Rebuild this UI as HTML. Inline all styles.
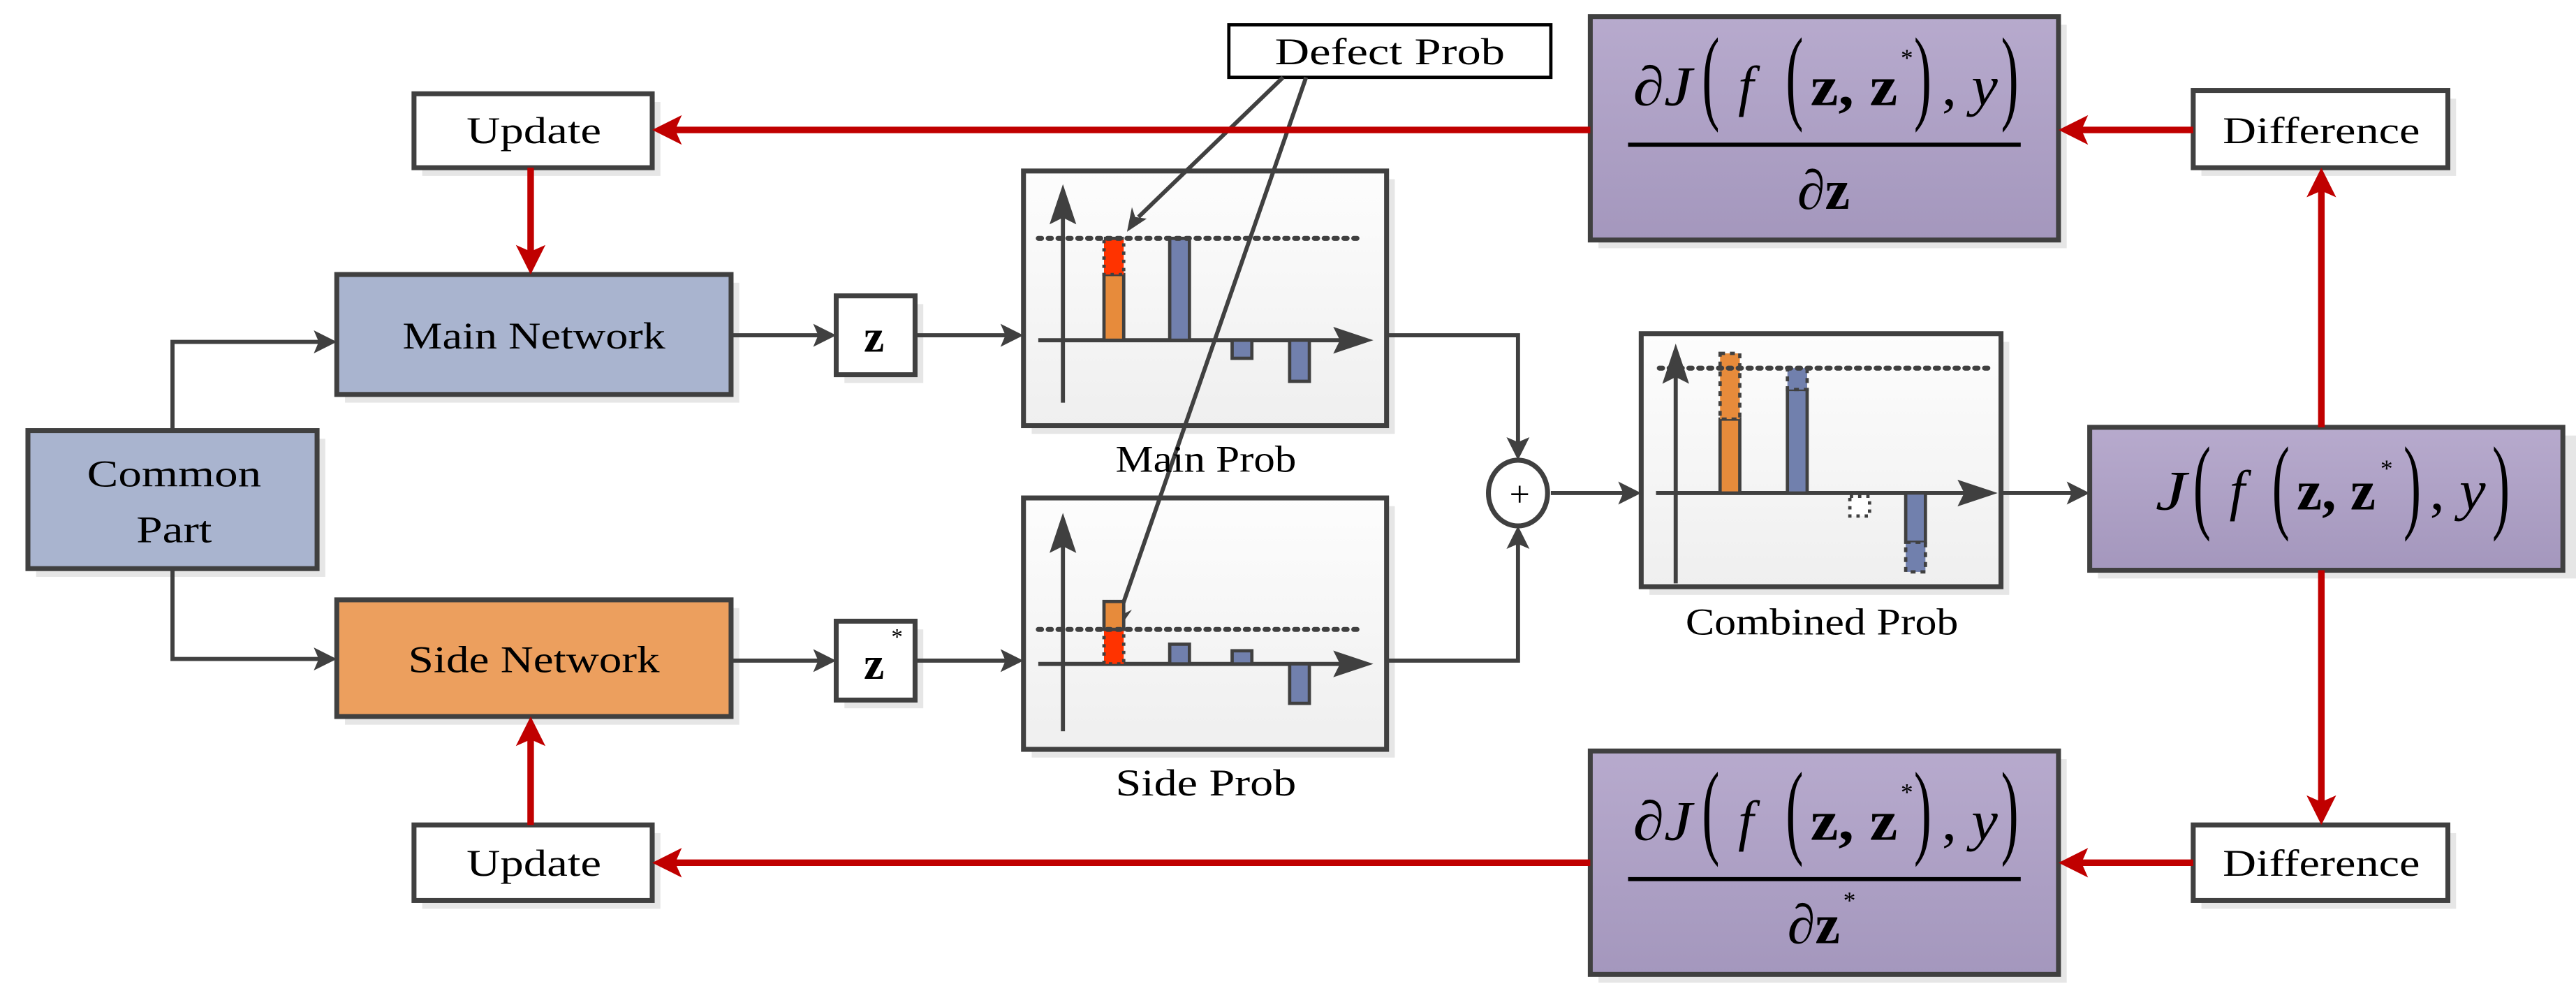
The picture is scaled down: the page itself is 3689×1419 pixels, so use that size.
<!DOCTYPE html>
<html><head><meta charset="utf-8"><style>
html,body{margin:0;padding:0;background:#fff;}
svg{display:block;}
text{font-family:"Liberation Serif",serif;fill:#000;}
</style></head><body>
<svg width="3689" height="1419" viewBox="0 0 1568 603" xmlns="http://www.w3.org/2000/svg">
<defs>
<linearGradient id="pur" x1="0" y1="0" x2="0" y2="1"><stop offset="0" stop-color="#b7aacd"/><stop offset="1" stop-color="#a497bd"/></linearGradient>
<linearGradient id="pan" x1="0" y1="0" x2="0" y2="1"><stop offset="0" stop-color="#fdfdfd"/><stop offset="1" stop-color="#efefef"/></linearGradient>
</defs>
<g fill="#e6e6e6">
<rect x="257" y="62" width="145" height="45"/>
<rect x="210" y="172" width="240" height="73"/>
<rect x="22" y="267" width="176" height="84"/>
<rect x="210" y="370" width="240" height="71"/>
<rect x="257" y="507" width="145" height="46"/>
<rect x="514" y="185" width="48" height="48"/>
<rect x="514" y="383" width="48" height="48"/>
<rect x="628" y="109" width="221" height="155"/>
<rect x="628" y="308" width="221" height="153"/>
<rect x="1004" y="208" width="219" height="154"/>
<rect x="1277" y="265" width="291" height="87"/>
<rect x="973" y="15" width="285" height="136"/>
<rect x="1340" y="60" width="155" height="47"/>
<rect x="973" y="462" width="285" height="136"/>
<rect x="1340" y="507" width="155" height="46"/>
</g>
<g stroke="#404040" stroke-width="3">
<rect x="252" y="57" width="145" height="45" fill="#fff"/>
<rect x="205" y="167" width="240" height="73" fill="#a9b4cf"/>
<rect x="17" y="262" width="176" height="84" fill="#a9b4cf"/>
<rect x="205" y="365" width="240" height="71" fill="#ec9f5e"/>
<rect x="252" y="502" width="145" height="46" fill="#fff"/>
<rect x="509" y="180" width="48" height="48" fill="#fff"/>
<rect x="509" y="378" width="48" height="48" fill="#fff"/>
<rect x="623" y="104" width="221" height="155" fill="url(#pan)"/>
<rect x="623" y="303" width="221" height="153" fill="url(#pan)"/>
<rect x="999" y="203" width="219" height="154" fill="url(#pan)"/>
<rect x="1272" y="260" width="288" height="87" fill="url(#pur)"/>
<rect x="968" y="10" width="285" height="136" fill="url(#pur)"/>
<rect x="1335" y="55" width="155" height="47" fill="#fff"/>
<rect x="968" y="457" width="285" height="136" fill="url(#pur)"/>
<rect x="1335" y="502" width="155" height="46" fill="#fff"/>
<rect x="748" y="15" width="196" height="32" fill="#fff" stroke="#000" stroke-width="2"/>
<ellipse cx="924" cy="300" rx="18" ry="20" fill="#fff"/>
</g>
<g stroke="#404040" stroke-width="2.5" fill="none">
<polyline points="105,262 105,208 195,208"/>
<polyline points="105,346 105,401 195,401"/>
<line x1="445" y1="204" x2="499" y2="204"/>
<line x1="557" y1="204" x2="613" y2="204"/>
<line x1="445" y1="402" x2="499" y2="402"/>
<line x1="557" y1="402" x2="613" y2="402"/>
<polyline points="844,204 924,204 924,270"/>
<polyline points="844,402 924,402 924,330"/>
<line x1="944" y1="300" x2="989" y2="300"/>
<line x1="1218" y1="300" x2="1262" y2="300"/>
<line x1="781" y1="47" x2="693" y2="132"/>
<line x1="795" y1="47" x2="682" y2="372"/>
</g>
<g fill="#404040">
<path d="M205,208 l-14,-7 3,7 -3,7z"/>
<path d="M205,401 l-14,-7 3,7 -3,7z"/>
<path d="M509,204 l-14,-7 3,7 -3,7z"/>
<path d="M623,204 l-14,-7 3,7 -3,7z"/>
<path d="M509,402 l-14,-7 3,7 -3,7z"/>
<path d="M623,402 l-14,-7 3,7 -3,7z"/>
<path d="M924,280 l-7,-14 7,3 7,-3z"/>
<path d="M924,320 l-7,14 7,-3 7,3z"/>
<path d="M999,300 l-14,-7 3,7 -3,7z"/>
<path d="M1272,300 l-14,-7 3,7 -3,7z"/>
<path d="M686,141 l3,-15 2,6 7,1z"/>
<path d="M680,384 l-1,-15 4,5 6,-3z"/>
</g>
<g stroke="#c00000" stroke-width="4" fill="none">
<line x1="968" y1="79" x2="410" y2="79"/>
<line x1="1335" y1="79" x2="1266" y2="79"/>
<line x1="323" y1="102" x2="323" y2="155"/>
<line x1="1413" y1="260" x2="1413" y2="115"/>
<line x1="1413" y1="347" x2="1413" y2="490"/>
<line x1="323" y1="502" x2="323" y2="449"/>
<line x1="968" y1="525" x2="410" y2="525"/>
<line x1="1335" y1="525" x2="1266" y2="525"/>
</g>
<g fill="#c00000">
<path d="M397,79 l18,-9 -4,9 4,9z"/>
<path d="M1253,79 l18,-9 -4,9 4,9z"/>
<path d="M397,525 l18,-9 -4,9 4,9z"/>
<path d="M1253,525 l18,-9 -4,9 4,9z"/>
<path d="M323,167 l-9,-18 9,4 9,-4z"/>
<path d="M323,436 l-9,18 9,-4 9,4z"/>
<path d="M1413,102 l-9,18 9,-4 9,4z"/>
<path d="M1413,502 l-9,-18 9,4 9,-4z"/>
</g>
<g stroke="#404040" stroke-width="2.5">
<line x1="647" y1="245" x2="647" y2="125"/><path d="M647,116 l-6,18 6,-3 6,3z" fill="#404040"/>
<line x1="632" y1="207" x2="822" y2="207"/><path d="M832,207 l-18,-6 3,6 -3,6z" fill="#404040"/>
<rect x="672" y="167" width="12" height="40" fill="#e78b3b" stroke-width="2"/>
<rect x="672" y="145" width="12" height="22" fill="#ff3300" stroke-width="2" stroke-dasharray="2,3"/>
<rect x="712" y="145" width="12" height="62" fill="#7180ad" stroke-width="2"/>
<rect x="750" y="207" width="12" height="11" fill="#7180ad" stroke-width="2"/>
<rect x="785" y="207" width="12" height="25" fill="#7180ad" stroke-width="2"/>
<line x1="632" y1="145" x2="830" y2="145" stroke-width="3" stroke-dasharray="2,4" stroke-linecap="round"/>
<line x1="647" y1="445" x2="647" y2="325"/><path d="M647,316 l-6,18 6,-3 6,3z" fill="#404040"/>
<line x1="632" y1="404" x2="822" y2="404"/><path d="M832,404 l-18,-6 3,6 -3,6z" fill="#404040"/>
<rect x="672" y="366" width="12" height="17" fill="#e78b3b" stroke-width="2"/>
<rect x="672" y="383" width="12" height="21" fill="#ff3300" stroke-width="2" stroke-dasharray="2,3"/>
<rect x="712" y="392" width="12" height="12" fill="#7180ad" stroke-width="2"/>
<rect x="750" y="396" width="12" height="8" fill="#7180ad" stroke-width="2"/>
<rect x="785" y="404" width="12" height="24" fill="#7180ad" stroke-width="2"/>
<line x1="632" y1="383" x2="830" y2="383" stroke-width="3" stroke-dasharray="2,4" stroke-linecap="round"/>
<line x1="1020" y1="355" x2="1020" y2="222"/><path d="M1020,213 l-6,18 6,-3 6,3z" fill="#404040"/>
<line x1="1008" y1="300" x2="1202" y2="300"/><path d="M1212,300 l-18,-6 3,6 -3,6z" fill="#404040"/>
<rect x="1047" y="255" width="12" height="45" fill="#e78b3b" stroke-width="2"/>
<rect x="1047" y="215" width="12" height="40" fill="#e78b3b" stroke-width="2" stroke-dasharray="3,3"/>
<rect x="1088" y="237" width="12" height="63" fill="#7180ad" stroke-width="2"/>
<rect x="1088" y="224" width="12" height="13" fill="#7180ad" stroke-width="2" stroke-dasharray="3,3"/>
<rect x="1126" y="302" width="12" height="12" fill="#fff" stroke-width="2" stroke-dasharray="2,3"/>
<rect x="1160" y="300" width="12" height="30" fill="#7180ad" stroke-width="2"/>
<rect x="1160" y="330" width="12" height="18" fill="#7180ad" stroke-width="2" stroke-dasharray="3,3"/>
<line x1="1010" y1="224" x2="1210" y2="224" stroke-width="3" stroke-dasharray="2,4" stroke-linecap="round"/>
</g>
<g font-size="23" text-anchor="middle">
<text x="325" y="87" textLength="82" lengthAdjust="spacingAndGlyphs">Update</text>
<text x="325" y="533" textLength="82" lengthAdjust="spacingAndGlyphs">Update</text>
<text x="325" y="212" textLength="160" lengthAdjust="spacingAndGlyphs">Main Network</text>
<text x="325" y="409" textLength="153" lengthAdjust="spacingAndGlyphs">Side Network</text>
<text x="106" y="296" textLength="106" lengthAdjust="spacingAndGlyphs">Common</text>
<text x="106" y="330" textLength="46" lengthAdjust="spacingAndGlyphs">Part</text>
<text x="846" y="39" textLength="140" lengthAdjust="spacingAndGlyphs">Defect Prob</text>
<text x="734" y="287" textLength="110" lengthAdjust="spacingAndGlyphs">Main Prob</text>
<text x="734" y="484" textLength="110" lengthAdjust="spacingAndGlyphs">Side Prob</text>
<text x="1109" y="386" textLength="166" lengthAdjust="spacingAndGlyphs">Combined Prob</text>
<text x="1413" y="87" textLength="120" lengthAdjust="spacingAndGlyphs">Difference</text>
<text x="1413" y="533" textLength="120" lengthAdjust="spacingAndGlyphs">Difference</text>
<text x="532" y="214" font-size="28" font-weight="bold">z</text>
<text x="532" y="413" font-size="28" font-weight="bold">z</text>
<text x="546" y="392" font-size="14">*</text>
<text x="925" y="308" font-size="22">+</text>
</g>
<g font-size="34">
<text x="994" y="64" font-style="italic" textLength="36" lengthAdjust="spacingAndGlyphs">∂J</text>
<text transform="translate(1036,67) scale(0.5,1)" font-size="64">(</text>
<text x="1058" y="64" font-style="italic">f</text>
<text transform="translate(1087,67) scale(0.5,1)" font-size="64">(</text>
<text x="1102" y="64" font-weight="bold" textLength="53" lengthAdjust="spacingAndGlyphs">z, z</text>
<text x="1157" y="40" font-size="15">*</text>
<text transform="translate(1165,67) scale(0.5,1)" font-size="64">)</text>
<text x="1182" y="64" textLength="34" lengthAdjust="spacingAndGlyphs">, <tspan font-style="italic">y</tspan></text>
<text transform="translate(1218,67) scale(0.5,1)" font-size="64">)</text>
<line x1="991" y1="88" x2="1230" y2="88" stroke="#000" stroke-width="2.5"/>
<text x="1094" y="127" textLength="32" lengthAdjust="spacingAndGlyphs"><tspan font-style="italic">∂</tspan><tspan font-weight="bold">z</tspan></text>
</g>
<g font-size="34">
<text x="994" y="511" font-style="italic" textLength="36" lengthAdjust="spacingAndGlyphs">∂J</text>
<text transform="translate(1036,514) scale(0.5,1)" font-size="64">(</text>
<text x="1058" y="511" font-style="italic">f</text>
<text transform="translate(1087,514) scale(0.5,1)" font-size="64">(</text>
<text x="1102" y="511" font-weight="bold" textLength="53" lengthAdjust="spacingAndGlyphs">z, z</text>
<text x="1157" y="487" font-size="15">*</text>
<text transform="translate(1165,514) scale(0.5,1)" font-size="64">)</text>
<text x="1182" y="511" textLength="34" lengthAdjust="spacingAndGlyphs">, <tspan font-style="italic">y</tspan></text>
<text transform="translate(1218,514) scale(0.5,1)" font-size="64">)</text>
<line x1="991" y1="535" x2="1230" y2="535" stroke="#000" stroke-width="2.5"/>
<text x="1088" y="574" textLength="32" lengthAdjust="spacingAndGlyphs"><tspan font-style="italic">∂</tspan><tspan font-weight="bold">z</tspan></text>
<text x="1122" y="553" font-size="15">*</text>
</g>
<g font-size="34">
<text x="1312" y="310" font-style="italic" textLength="19" lengthAdjust="spacingAndGlyphs">J</text>
<text transform="translate(1335,316) scale(0.5,1)" font-size="64">(</text>
<text x="1357" y="310" font-style="italic">f</text>
<text transform="translate(1383,316) scale(0.5,1)" font-size="64">(</text>
<text x="1398" y="310" font-weight="bold" textLength="48" lengthAdjust="spacingAndGlyphs">z, z</text>
<text x="1449" y="290" font-size="15">*</text>
<text transform="translate(1463,316) scale(0.5,1)" font-size="64">)</text>
<text x="1479" y="310" textLength="34" lengthAdjust="spacingAndGlyphs">, <tspan font-style="italic">y</tspan></text>
<text transform="translate(1517,316) scale(0.5,1)" font-size="64">)</text>
</g>
</svg>
</body></html>
